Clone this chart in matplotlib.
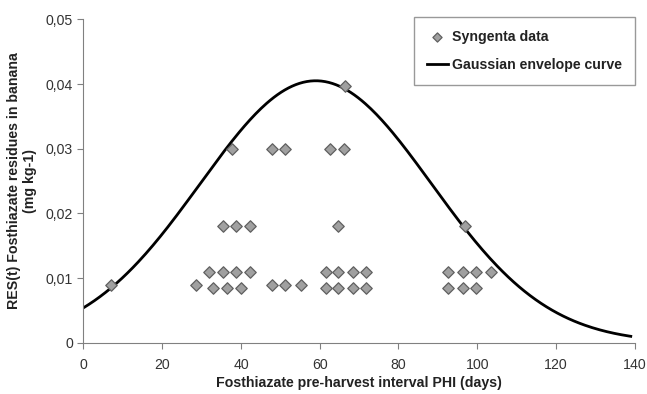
import numpy as np
import matplotlib
matplotlib.use("Agg")
import matplotlib.pyplot as plt
from matplotlib.ticker import FuncFormatter

plt.rcParams['font.family'] = ['Liberation Sans', 'DejaVu Sans']

# Syngenta data points (PHI in days, residue in mg/kg)
phi_days = [7, 28.5, 32, 33, 35.4, 36.5, 38.8, 40, 42.2,
            35.4, 38.8, 42.2, 37.7, 47.9, 51.3,
            47.9, 51.3, 55.2, 62.7, 66.1, 64.6,
            61.5, 64.6, 68.4, 71.8, 61.5, 64.6, 68.4, 71.8,
            66.5, 97, 92.6, 96.4, 99.8, 103.4, 92.6, 96.4, 99.8]
residue = [0.009, 0.009, 0.011, 0.0085, 0.011, 0.0085, 0.011, 0.0085, 0.011,
           0.018, 0.018, 0.018, 0.030, 0.030, 0.030,
           0.009, 0.009, 0.009, 0.030, 0.030, 0.018,
           0.011, 0.011, 0.011, 0.011, 0.0085, 0.0085, 0.0085, 0.0085,
           0.0397, 0.018, 0.011, 0.011, 0.011, 0.011, 0.0085, 0.0085, 0.0085]

# gaussian envelope parameters
peak = 0.0405
mu = 59.0
sigma = 29.4
x_end = 139

fs = 10.2
fig = plt.figure(figsize=(6.47, 3.94), dpi=100)
ax = fig.add_axes([0.129, 0.130, 0.852, 0.821])

xs = np.linspace(0, x_end, 300)
ys = peak * np.exp(-(xs - mu) ** 2 / (2 * sigma ** 2))
ax.plot(xs, ys, color='black', lw=2, label='Gaussian envelope curve', zorder=2)
ax.scatter(phi_days, residue, marker='D', s=34, facecolor='#a0a0a0',
           edgecolor='#606060', linewidths=0.9, label='Syngenta data', zorder=3)

ax.set_xlim(0, 140)
ax.set_ylim(0, 0.05)
ax.set_xticks(np.arange(0, 141, 20))
ax.set_yticks(np.arange(0, 0.051, 0.01))
ax.yaxis.set_major_formatter(FuncFormatter(
    lambda v, p: '0' if v == 0 else f'{v:.2f}'.replace('.', ',')))

for s in ['top', 'right']:
    ax.spines[s].set_visible(False)
for s in ['left', 'bottom']:
    ax.spines[s].set_color('#808080')
ax.tick_params(colors='#808080', labelcolor='#333333', labelsize=fs, length=4)
ax.tick_params(axis='x', pad=7)

ax.set_xlabel('Fosthiazate pre-harvest interval PHI (days)', fontsize=fs,
              fontweight='bold', color='#222222', labelpad=3)
ax.set_ylabel('RES(t) Fosthiazate residues in banana\n(mg kg-1)', fontsize=fs,
              fontweight='bold', color='#222222', labelpad=6)

h, l = ax.get_legend_handles_labels()
leg = fig.legend(h[::-1], l[::-1], loc='upper right',
                 bbox_to_anchor=(635 / 647, 1 - 17 / 394),
                 bbox_transform=fig.transFigure, borderaxespad=0,
                 fontsize=fs, frameon=True, fancybox=False, handlelength=1.5,
                 handletextpad=0.3, borderpad=0.9, labelspacing=1.0,
                 markerscale=0.8)
leg.get_frame().set_edgecolor('#808080')
for t in leg.get_texts():
    t.set_fontweight('bold')
    t.set_color('#222222')

fig.savefig('out.png', dpi=100)
